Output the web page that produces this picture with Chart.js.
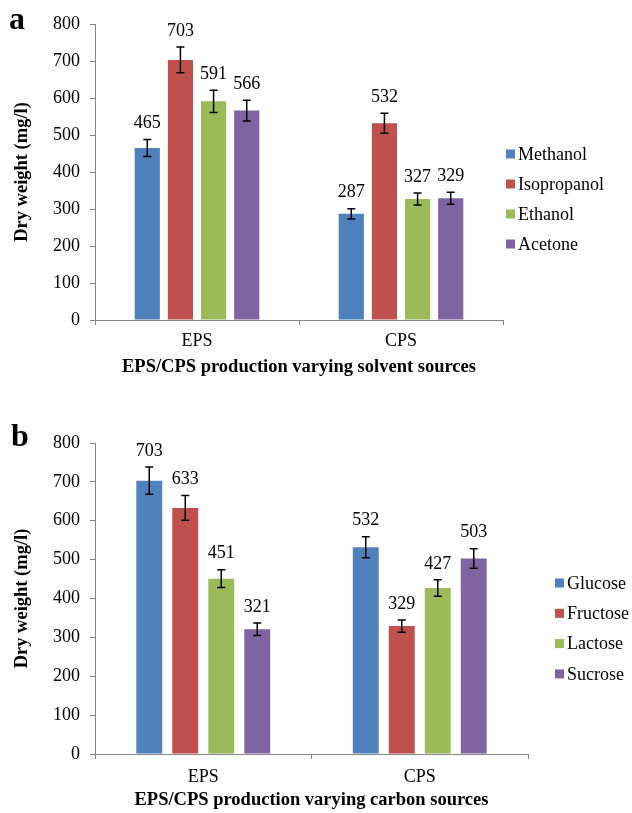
<!DOCTYPE html>
<html>
<head>
<meta charset="utf-8">
<script src="https://cdn.jsdelivr.net/npm/chart.js@4.4.0/dist/chart.umd.min.js"></script>
<style>
  body { margin: 0; background: #fff; width: 632px; height: 813px; position: relative; overflow: hidden; }
  canvas { position: absolute; left: 0; }
  #chart-a { top: 0; }
  #chart-b { top: 400px; }
  .tag { position: absolute; font: bold 32px "Liberation Serif", "Times New Roman", serif; color: #000; line-height: 1; }
</style>
</head>
<body>
<canvas id="chart-a" width="632" height="390"></canvas>
<canvas id="chart-b" width="632" height="413"></canvas>
<div class="tag" style="left:9px; top:2px;">a</div>
<div class="tag" style="left:11px; top:419px;">b</div>
<script>
// 데이터
const categories = ['EPS', 'CPS'];
const seriesColors = ['#4F81BD', '#C0504D', '#9BBB59', '#8064A2'];

// (a) solvent sources
const solventNames = ['Methanol', 'Isopropanol', 'Ethanol', 'Acetone'];
const solventEPS = [465, 703, 591, 566];
const solventCPS = [287, 532, 327, 329];
const solventErrEPS = [23, 35, 30, 28];
const solventErrCPS = [14, 27, 16, 16];

// (b) carbon sources
const carbonNames = ['Glucose', 'Fructose', 'Lactose', 'Sucrose'];
const carbonEPS = [703, 633, 451, 321];
const carbonCPS = [532, 329, 427, 503];
const carbonErrEPS = [35, 32, 23, 16];
const carbonErrCPS = [27, 16, 21, 25];

const yMin = 0;
const yMax = 800;
const yStep = 100;

const FONT = '"Liberation Serif", "Times New Roman", serif';
const AXIS_GRAY = '#868686';
Chart.defaults.font.family = FONT;
Chart.defaults.color = '#000';

// 오차 막대 + 값 라벨
const errorBarPlugin = {
  id: 'errorBars',
  afterDatasetsDraw(chart) {
    const ctx = chart.ctx;
    const yScale = chart.scales.y;
    ctx.save();
    chart.data.datasets.forEach((ds, i) => {
      const meta = chart.getDatasetMeta(i);
      meta.data.forEach((bar, j) => {
        const v = ds.data[j];
        const e = ds.errors[j];
        const top = yScale.getPixelForValue(v + e);
        const bottom = yScale.getPixelForValue(v - e);
        ctx.strokeStyle = '#000';
        ctx.lineWidth = 1.5;
        ctx.beginPath();
        ctx.moveTo(bar.x, top);
        ctx.lineTo(bar.x, bottom);
        ctx.moveTo(bar.x - 4, top);
        ctx.lineTo(bar.x + 4, top);
        ctx.moveTo(bar.x - 4, bottom);
        ctx.lineTo(bar.x + 4, bottom);
        ctx.stroke();

        ctx.fillStyle = '#000';
        ctx.font = '18px ' + FONT;
        ctx.textAlign = 'center';
        ctx.textBaseline = 'middle';
        ctx.fillText(String(v), bar.x, top - 16);
      });
    });
    ctx.restore();
  }
};

// 범례 (오른쪽)
const sideLegendPlugin = {
  id: 'sideLegend',
  afterDraw(chart, args, opts) {
    const ctx = chart.ctx;
    ctx.save();
    chart.data.datasets.forEach((ds, i) => {
      const cy = opts.y + i * opts.spacing;
      ctx.fillStyle = ds.backgroundColor;
      ctx.fillRect(opts.x, cy - 4.5, 9, 9);
      ctx.fillStyle = '#000';
      ctx.font = '18px ' + FONT;
      ctx.textAlign = 'left';
      ctx.textBaseline = 'middle';
      ctx.fillText(ds.label, opts.x + 12, cy + 1);
    });
    ctx.restore();
  }
};

function makeDatasets(names, eps, cps, errEps, errCps) {
  return names.map((name, i) => ({
    label: name,
    data: [eps[i], cps[i]],
    errors: [errEps[i], errCps[i]],
    backgroundColor: seriesColors[i],
    borderWidth: 0
  }));
}

function makeChart(canvasId, cfg) {
  const ctx = document.getElementById(canvasId).getContext('2d');
  return new Chart(ctx, {
    type: 'bar',
    data: {
      labels: categories,
      datasets: makeDatasets(cfg.names, cfg.eps, cfg.cps, cfg.errEps, cfg.errCps)
    },
    options: {
      responsive: false,
      animation: false,
      layout: { padding: cfg.padding },
      categoryPercentage: cfg.catPct,
      barPercentage: cfg.barPct,
      scales: {
        x: {
          grid: { display: true, drawOnChartArea: false, offset: true, tickLength: 5, color: AXIS_GRAY },
          border: { color: AXIS_GRAY, width: 1 },
          ticks: { font: { size: 18 }, color: '#000', padding: cfg.xTickPad },
          title: {
            display: true,
            text: cfg.xTitle,
            color: '#000',
            font: { size: 18.5, weight: 'bold' },
            padding: { top: 0, bottom: cfg.xTitlePad }
          },
          afterFit: (scale) => { scale.height = cfg.xHeight; }
        },
        y: {
          min: yMin,
          max: yMax,
          grid: { display: true, drawOnChartArea: false, tickLength: 5, color: AXIS_GRAY },
          border: { color: AXIS_GRAY, width: 1 },
          ticks: { stepSize: yStep, font: { size: 18 }, color: '#000', padding: 10 },
          title: {
            display: true,
            text: 'Dry weight (mg/l)',
            color: '#000',
            font: { size: 18.5, weight: 'bold' },
            padding: { top: 11, bottom: 0 }
          },
          afterFit: (scale) => { scale.width = 95; }
        }
      },
      plugins: {
        legend: { display: false },
        tooltip: { enabled: false },
        sideLegend: cfg.legend
      }
    },
    plugins: [errorBarPlugin, sideLegendPlugin]
  });
}

makeChart('chart-a', {
  names: solventNames, eps: solventEPS, cps: solventCPS,
  errEps: solventErrEPS, errCps: solventErrCPS,
  xTitle: 'EPS/CPS production varying solvent sources',
  padding: { left: 0, right: 129, top: 24, bottom: 0 },
  xHeight: 70, xTickPad: 5, xTitlePad: 12,
  catPct: 0.65, barPct: 0.76,
  legend: { x: 506, y: 154, spacing: 30 }
});

makeChart('chart-b', {
  names: carbonNames, eps: carbonEPS, cps: carbonCPS,
  errEps: carbonErrEPS, errCps: carbonErrCPS,
  xTitle: 'EPS/CPS production varying carbon sources',
  padding: { left: 0, right: 104, top: 43, bottom: 0 },
  xHeight: 59, xTickPad: 7, xTitlePad: 2,
  catPct: 0.665, barPct: 0.72,
  legend: { x: 555, y: 183, spacing: 30.3 }
});
</script>
</body>
</html>
